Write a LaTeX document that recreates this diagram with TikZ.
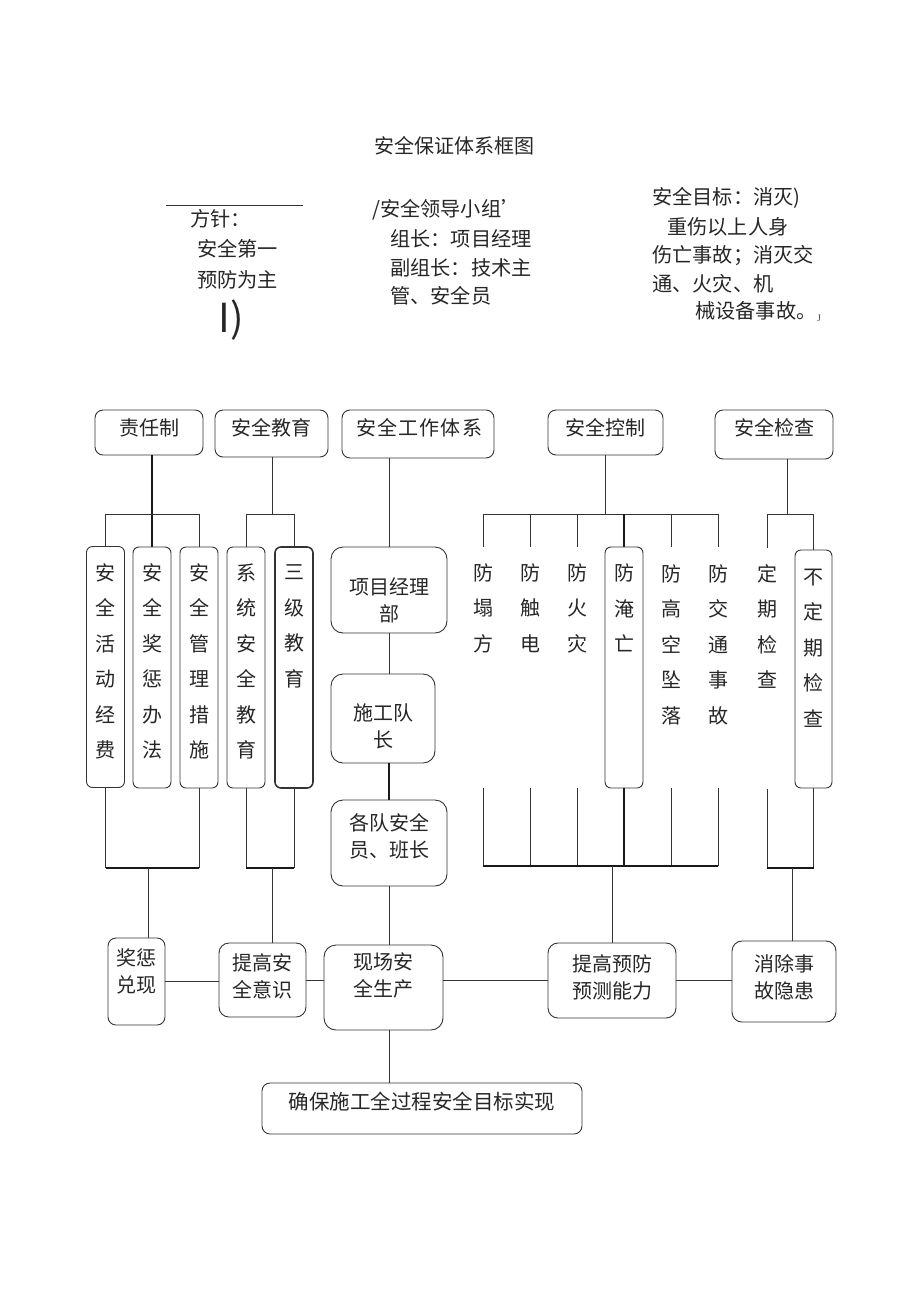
\documentclass[tikz,border=0pt]{standalone}
\usepackage{fontspec}
\setmainfont{Noto Sans CJK SC}
\newfontfamily\latserif{Liberation Serif}
\begin{document}
\begin{tikzpicture}[x=1pt,y=-1pt,
  ln/.style={draw=black!80, line width=0.9pt},
  thk/.style={draw=black!90, line width=1.8pt},
  box/.style={draw=black!80, line width=0.9pt, rounded corners=8pt, inner sep=0pt},
  cbox/.style={box, rounded corners=6pt, minimum width=38, minimum height=241},
  ghost/.style={inner sep=0pt, minimum width=38, minimum height=241},
  txt/.style={font=\fontsize{20}{27}\selectfont, align=center, inner sep=0pt, text=black!85},
  hdr/.style={font=\fontsize{20.2}{29}\selectfont, align=left, inner sep=0pt, anchor=west, text=black!85},
  col/.style={font=\fontsize{20}{35.5}\selectfont, align=center, inner sep=0pt, text=black!85},
]
\useasboundingbox (0,0) rectangle (920,1302);

% ---------- header ----------
\node[txt] (title) at (454,146) {安全保证体系框图};
\coordinate (hl1) at (166,205);
\coordinate (hl2) at (303,205);
\draw[ln, line width=0.6pt] (hl1) -- (hl2);
\node[hdr] (fz1) at (190,219) {方针：};
\node[hdr] (fz2) at (197,249) {安全第一};
\node[hdr] (fz3) at (197,280) {预防为主};
\node[inner sep=0pt, font=\fontsize{40}{40}\selectfont, text=black!85] (fz4) at (231,320) {I)};
\node[hdr] (ld1) at (372,210) {/安全领导小组’};
\node[hdr] (ld2) at (390,239) {组长：项目经理};
\node[hdr] (ld3) at (390,268) {副组长：技术主};
\node[hdr] (ld4) at (390,296) {管、安全员};
\node[hdr] (mb1) at (652,198) {安全目标：消灭)};
\node[hdr] (mb2) at (667,227) {重伤以上人身};
\node[hdr] (mb3) at (652,256) {伤亡事故；消灭交};
\node[hdr] (mb4) at (652,284) {通、火灾、机};
\node[hdr] (mb5) at (695,311) {械设备事故。};
\node[inner sep=0pt, font=\latserif\fontsize{10}{10}\selectfont, text=black!70] (mb6) at (819,318) {J};

% ---------- top row ----------
\node[box, minimum width=108, minimum height=45] (zr) at (149,432.5) {};
\node[txt] (zrt) at (149,428) {责任制};
\node[box, minimum width=113, minimum height=47] (jy) at (271.5,433.5) {};
\node[txt] (jyt) at (271.5,428) {安全教育};
\node[box, minimum width=152, minimum height=48] (gz) at (418,434) {};
\node[txt, font=\fontsize{20}{27}\selectfont\addfontfeature{LetterSpace=6}] (gzt) at (419,428) {安全工作体系};
\node[box, minimum width=115, minimum height=45] (kz) at (605.5,432.5) {};
\node[txt] (kzt) at (605.5,428) {安全控制};
\node[box, minimum width=118, minimum height=49] (jc) at (774,434.5) {};
\node[txt] (jct) at (774,428) {安全检查};

% ---------- columns ----------
\node[cbox] (c1) at (105.5,667) {};
\node[cbox] (c2) at (152,667.5) {};
\node[cbox] (c3) at (199,667.5) {};
\node[cbox] (c4) at (246,667.5) {};
\node[cbox, line width=1.6pt] (c5) at (294,667.5) {};
\node[col] (c1t) at (105.5,661.5) {安\\全\\活\\动\\经\\费};
\node[col] (c2t) at (152,661.5) {安\\全\\奖\\惩\\办\\法};
\node[col] (c3t) at (199,661.5) {安\\全\\管\\理\\措\\施};
\node[col] (c4t) at (246,661.5) {系\\统\\安\\全\\教\\育};
\node[col] (c5t) at (294,626.5) {三\\级\\教\\育};

\node[ghost] (p1) at (483,667.5) {};
\node[ghost] (p2) at (530,667.5) {};
\node[ghost] (p3) at (577,667.5) {};
\node[cbox] (p4) at (624,667.5) {};
\node[ghost] (p5) at (671,667.5) {};
\node[ghost] (p6) at (718,667.5) {};
\node[ghost] (q1) at (767,668.5) {};
\node[cbox, minimum height=238, minimum width=37] (q2) at (813.5,669) {};
\node[col] (p1t) at (483,608) {防\\塌\\方};
\node[col] (p2t) at (530,608) {防\\触\\电};
\node[col] (p3t) at (577,608) {防\\火\\灾};
\node[col] (p4t) at (624,608) {防\\淹\\亡};
\node[col] (p5t) at (671,644.5) {防\\高\\空\\坠\\落};
\node[col] (p6t) at (718,644.5) {防\\交\\通\\事\\故};
\node[col] (q1t) at (767,626.5) {定\\期\\检\\查};
\node[col] (q2t) at (813.5,648) {不\\定\\期\\检\\查};

% ---------- centre chain ----------
\node[box, rounded corners=12pt, minimum width=116, minimum height=86] (xm) at (389,590) {};
\node[txt] (xmt) at (389,600) {项目经理\\部};
\node[box, rounded corners=12pt, minimum width=104, minimum height=89] (sg) at (383,718.5) {};
\node[txt] (sgt) at (383,726.5) {施工队\\长};
\node[box, rounded corners=12pt, minimum width=116, minimum height=86] (gd) at (389,843) {};
\node[txt] (gdt) at (389,836) {各队安全\\员、班长};
\node[box, rounded corners=12pt, minimum width=119, minimum height=85] (xc) at (383.5,987.5) {};
\node[txt] (xct) at (383.5,975) {现场安\\全生产};

% ---------- bottom row ----------
\node[box, minimum width=57, minimum height=87] (jx) at (136.5,981.5) {};
\node[txt] (jxt) at (136.5,971.5) {奖惩\\兑现};
\node[box, rounded corners=10pt, minimum width=87, minimum height=74] (tg) at (262.5,980) {};
\node[txt] (tgt) at (262.5,976.5) {提高安\\全意识};
\node[box, rounded corners=10pt, minimum width=128, minimum height=75] (ty) at (612,980.5) {};
\node[txt] (tyt) at (612,977.5) {提高预防\\预测能力};
\node[box, rounded corners=10pt, minimum width=104, minimum height=81] (xx) at (784,981.5) {};
\node[txt] (xxt) at (784,977) {消除事\\故隐患};
\node[box, minimum width=320, minimum height=51] (qb) at (422,1108.5) {};
\node[txt, font=\fontsize{20.5}{27}\selectfont] (qbt) at (422,1102) {确保施工全过程安全目标实现};

% ---------- helper coordinates ----------
\coordinate (bt) at (0,514);
\coordinate (bb) at (0,868);
\coordinate (qm) at (787,514);
\coordinate (m1) at (148,868);
\coordinate (m2) at (272,868);
\coordinate (m3) at (612,866);
\coordinate (m4) at (792,868);

% ---------- top connectors ----------
\draw[thk] (zr.south -| c2.north) -- (c2.north);
\draw[ln] (c1.north) |- (c3.north |- bt) -- (c3.north);
\draw[ln] (jy.south -| m2) -- (m2 |- bt);
\draw[ln] (c4.north) |- (c5.north |- bt) -- (c5.north);
\draw[ln] (gz.south -| xm.north) -- (xm.north);
\draw[ln] (xm.south) -- (xm.south |- sg.north);
\draw[thk] (xm.south |- sg.south) -- (xm.south |- gd.north);
\draw[ln] (kz.south) -- (kz.south |- bt);
\draw[ln] (p1.north) |- (p6.north |- bt) -- (p6.north);
\draw[ln] (p2.north) -- (p2.north |- bt);
\draw[ln] (p3.north) -- (p3.north |- bt);
\draw[thk] (p4.north) -- (p4.north |- bt);
\draw[ln] (p5.north) -- (p5.north |- bt);
\draw[ln] (jc.south -| qm) -- (qm);
\draw[ln] (q1.north) |- (q2.north |- bt) -- (q2.north);

% ---------- bottom connectors ----------
\draw[ln] (c1.south) -- (c1.south |- bb);
\draw[ln] (c3.south) -- (c3.south |- bb);
\draw[thk] (c1.south |- bb) -- (c3.south |- bb);
\draw[ln] (m1) -- (m1 |- jx.north);
\draw[ln] (c4.south) -- (c4.south |- bb);
\draw[ln] (c5.south) -- (c5.south |- bb);
\draw[thk] (c4.south |- bb) -- (c5.south |- bb);
\draw[ln] (m2) -- (m2 |- tg.north);
\draw[ln] (gd.south) -- (gd.south |- xc.north);
\draw[ln] (p1.south) -- (p1.south |- m3);
\draw[ln] (p2.south) -- (p2.south |- m3);
\draw[ln] (p3.south) -- (p3.south |- m3);
\draw[thk] (p4.south) -- (p4.south |- m3);
\draw[ln] (p5.south) -- (p5.south |- m3);
\draw[ln] (p6.south) -- (p6.south |- m3);
\draw[thk] (p1.south |- m3) -- (p6.south |- m3);
\draw[ln] (m3) -- (ty.north);
\draw[ln] (q1.south) -- (q1.south |- m4);
\draw[ln] (q2.south) -- (q2.south |- m4);
\draw[thk] (q1.south |- m4) -- (q2.south |- m4);
\draw[ln] (m4) -- (m4 |- xx.north);

% ---------- horizontal links ----------
\draw[ln] (jx.east) -- (jx.east -| tg.west);
\draw[ln] (tg.east) -- (tg.east -| xc.west);
\draw[ln] (xc.east |- ty.west) -- (ty.west);
\draw[ln] (ty.east) -- (ty.east -| xx.west);
\draw[ln] (gd.south |- xc.south) -- (gd.south |- qb.north);
\end{tikzpicture}
\end{document}
